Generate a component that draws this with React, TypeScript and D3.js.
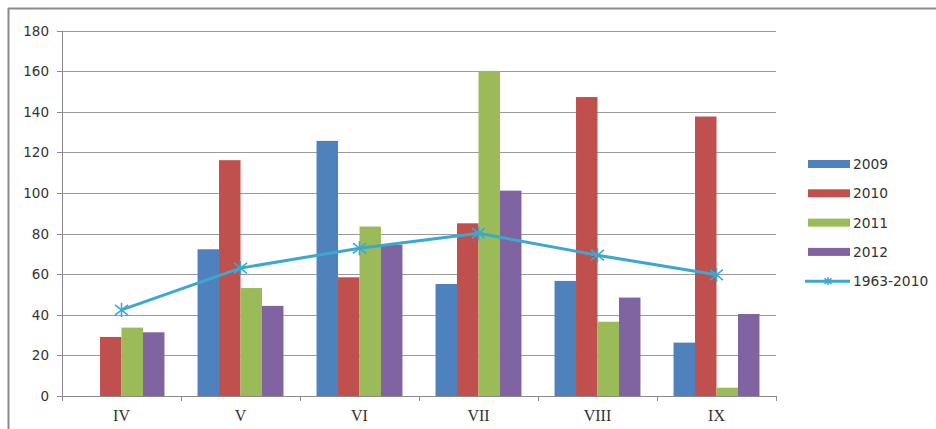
import React from "react";
import * as d3 from "d3";

const categories = ["IV", "V", "VI", "VII", "VIII", "IX"];
const barSeries = ["2009", "2010", "2011", "2012"];
const values2009 = [0, 72.3, 125.7, 55.2, 56.7, 26.3];
const values2010 = [29.1, 116.2, 58.5, 85.1, 147.3, 137.7];
const values2011 = [33.7, 53.2, 83.5, 160.2, 36.6, 4.1];
const values2012 = [31.4, 44.4, 74.5, 101.2, 48.5, 40.4];
const lineName = "1963-2010";
const lineValues = [42.4, 63, 72.8, 80.2, 69.4, 59.7];
const yTicks = [0, 20, 40, 60, 80, 100, 120, 140, 160, 180];

const barColors = ["#4f81bd", "#c0504d", "#9bbb59", "#8064a2"];
const lineColor = "#3ba8d0";

const W = 936;
const H = 429;
const left = 62;
const right = 776;
const top = 30.7;
const bottom = 396;

function Star({ cx, cy, r, color }: { cx: number; cy: number; r: number; color: string }) {
  return (
    <g stroke={color} strokeWidth={1.6}>
      <line x1={cx - r} y1={cy - r * 0.8} x2={cx + r} y2={cy + r * 0.8} />
      <line x1={cx - r} y1={cy + r * 0.8} x2={cx + r} y2={cy - r * 0.8} />
      <line x1={cx} y1={cy - r * 1.1} x2={cx} y2={cy + r * 1.1} />
    </g>
  );
}

export default function App() {
  const seriesValues = [values2009, values2010, values2011, values2012];
  const x = d3.scaleBand<string>().domain(categories).range([left, right]).padding(0);
  const bw = x.bandwidth();
  const gap = bw * 0.139;
  const x1 = d3.scaleBand<string>().domain(barSeries).range([gap, bw - gap]).padding(0);
  const y = d3.scaleLinear().domain([0, 180]).range([bottom, top]);

  const line = d3
    .line<number>()
    .x((_, i) => (x(categories[i]) as number) + bw / 2)
    .y((d) => y(d));

  const legendX = 808;
  const legendY0 = 164;
  const legendStep = 29.3;
  const legendItems = [...barSeries, lineName];
  const textColor = "#333";

  return (
    <svg
      width={W}
      height={H}
      style={{ position: "absolute", left: 0, top: 0, background: "#fff" }}
      fontFamily="DejaVu Sans, Verdana, sans-serif"
    >
      <rect x={0} y={0} width={W} height={H} fill="#fff" />
      {/* outer frame */}
      <line x1={8} y1={8.5} x2={W} y2={8.5} stroke="#8a8a8a" strokeWidth={2} />
      <line x1={8.5} y1={8} x2={8.5} y2={H} stroke="#8a8a8a" strokeWidth={2} />

      {/* gridlines */}
      {yTicks.map((t) => (
        <line key={"g" + t} x1={left} x2={right} y1={Math.round(y(t)) + 0.5} y2={Math.round(y(t)) + 0.5} stroke="#9a9a9a" strokeWidth={1} />
      ))}
      {/* y axis */}
      <line x1={left + 0.5} x2={left + 0.5} y1={top} y2={bottom} stroke="#8a8a8a" />
      {yTicks.map((t) => (
        <g key={"t" + t}>
          <line x1={57} x2={left} y1={Math.round(y(t)) + 0.5} y2={Math.round(y(t)) + 0.5} stroke="#8a8a8a" />
          <text x={49} y={y(t)} dy="0.36em" textAnchor="end" fontSize={13.5} fill={textColor}>
            {t}
          </text>
        </g>
      ))}

      {/* bars */}
      {barSeries.map((s, si) =>
        categories.map((c, ci) => {
          const v = seriesValues[si][ci];
          if (!v) return null;
          return (
            <rect
              key={s + c}
              x={(x(c) as number) + (x1(s) as number)}
              y={y(v)}
              width={x1.bandwidth()}
              height={y(0) - y(v)}
              fill={barColors[si]}
            />
          );
        })
      )}

      {/* x axis */}
      <line x1={left} x2={right} y1={bottom + 0.5} y2={bottom + 0.5} stroke="#8a8a8a" />
      {categories.map((c) => (
        <line key={"xt" + c} x1={(x(c) as number) + 0.5} x2={(x(c) as number) + 0.5} y1={bottom} y2={bottom + 5} stroke="#8a8a8a" />
      ))}
      <line x1={right + 0.5} x2={right + 0.5} y1={bottom} y2={bottom + 5} stroke="#8a8a8a" />
      {categories.map((c) => (
        <text
          key={"xl" + c}
          x={(x(c) as number) + bw / 2}
          y={421}
          textAnchor="middle"
          fontSize={16}
          fontFamily="Liberation Serif, Times New Roman, serif"
          fill={textColor}
        >
          {c}
        </text>
      ))}

      {/* line series */}
      <path d={line(lineValues) || ""} fill="none" stroke={lineColor} strokeWidth={3} strokeLinejoin="round" />
      {lineValues.map((v, i) => (
        <Star key={"m" + i} cx={(x(categories[i]) as number) + bw / 2} cy={y(v)} r={6.5} color={lineColor} />
      ))}

      {/* legend */}
      {legendItems.map((name, i) => {
        const cy = legendY0 + i * legendStep;
        return (
          <g key={"lg" + name}>
            {i < barSeries.length ? (
              <rect x={legendX} y={cy - 4} width={42} height={8} fill={barColors[i]} />
            ) : (
              <g>
                <line x1={legendX - 3} x2={legendX + 42} y1={cy} y2={cy} stroke={lineColor} strokeWidth={3} />
                <Star cx={legendX + 20} cy={cy} r={3.5} color={lineColor} />
              </g>
            )}
            <text x={853} y={cy} dy="0.36em" fontSize={13.8} fill={textColor}>
              {name}
            </text>
          </g>
        );
      })}
    </svg>
  );
}
